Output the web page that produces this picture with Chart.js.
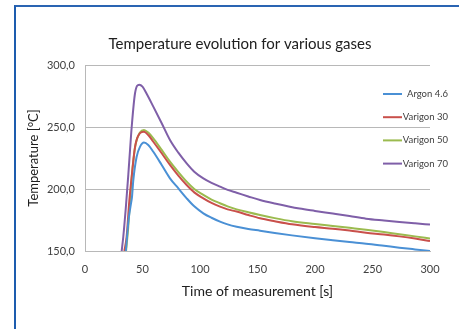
<!DOCTYPE html>
<html>
<head>
<meta charset="utf-8">
<script src="https://cdn.jsdelivr.net/npm/chart.js@4/dist/chart.umd.min.js"></script>
<style>
  html, body { margin: 0; padding: 0; background: #fff; }
  #wrap { position: relative; width: 459px; height: 329px; }
  #frame { position: absolute; left: 14px; top: 5px; right: 0; bottom: 0;
    border-left: 2px solid #1d5cae; border-top: 2px solid #2a64b2; }
  canvas { position: absolute; left: 0; top: 0; }
</style>
</head>
<body>
<div id="wrap">
  <div id="frame"></div>
  <canvas id="c" width="459" height="329"></canvas>
</div>
<script>
'use strict';

// ---------- データ ----------
const seriesNames = ['Argon 4.6', 'Varigon 30', 'Varigon 50', 'Varigon 70'];
const seriesColors = ['#4a90d5', '#c9504b', '#9bbb4f', '#7f5fa8'];

const argonT = [35.5, 38, 40.3, 40.8, 42, 44.9, 47.8, 51.3, 55, 59.4, 66.7, 73.9, 81.2, 88.4, 95, 102.9, 110, 117.4, 124, 131.9, 142, 152.2, 165, 180, 200, 215.5, 230, 244.4, 260, 273.4, 287, 300];
const argonV = [150, 176, 190, 193, 207, 226, 234, 237.4, 235.5, 230, 219.4, 208.6, 200.5, 192.5, 186, 180.4, 176.8, 173.7, 171.5, 169.6, 167.8, 166.4, 164.6, 162.6, 160.2, 158.6, 157.2, 155.9, 154.2, 152.7, 151.3, 150];

const var30T = [34.2, 36.2, 38.5, 40.6, 43.5, 47.8, 51.3, 55, 59.4, 66.7, 73.9, 81, 88.4, 95, 102.9, 110, 117.4, 124, 131.9, 142, 152.2, 165, 180, 200, 215.5, 230, 244.4, 260, 273.4, 287, 300];
const var30V = [150, 161.5, 190, 210, 234, 245, 246.2, 243.5, 238.1, 228.8, 219.4, 211, 203.2, 197.3, 192.5, 188.8, 185.8, 183.6, 181.8, 179, 176.4, 174, 171.5, 169.3, 168, 166.5, 164.8, 163.3, 161.8, 160, 158];

const var50T = [35.7, 37.5, 39.5, 41.5, 44, 47.8, 51.3, 55, 59.4, 66.7, 73.9, 81, 88.4, 95, 102.9, 110, 117.4, 124, 131.9, 142, 152.2, 165, 180, 200, 215.5, 230, 244.4, 260, 273.4, 287, 300];
const var50V = [150, 168, 195, 218, 236, 245.5, 247.6, 245.5, 240.9, 231.5, 222, 213.8, 205.9, 200, 195.2, 191.5, 188.5, 186, 183.6, 181.2, 179, 176.5, 174, 171.8, 170.2, 168.7, 167.2, 165.3, 163.5, 161.8, 160];

const var70T = [31.9, 33.3, 35.5, 37.7, 39.2, 40.6, 43.5, 47.2, 50, 53.5, 59.4, 66.7, 73.9, 81, 88.4, 95, 102.9, 110, 117.4, 124, 131.9, 142, 152.2, 165, 186.6, 200, 215.5, 230, 244.4, 260, 273.4, 287, 300];
const var70V = [150, 161.5, 185, 212, 232, 250, 277.2, 284.1, 282.5, 277, 266.4, 253, 239.5, 229.5, 220.7, 214, 208.6, 205, 201.9, 199.3, 197, 194, 191.1, 188.3, 184.2, 182.3, 180.2, 178.2, 176.1, 174.6, 173.4, 172.3, 171.3];

const seriesT = [argonT, var30T, var50T, var70T];
const seriesV = [argonV, var30V, var50V, var70V];

const xTicks = [0, 50, 100, 150, 200, 250, 300];
const yTicks = [150, 200, 250, 300];

const FONT = 'Lato, "Open Sans", sans-serif';

// ---------- 凡例(グラフ領域の右側に重ねて描く) ----------
const legendPlugin = {
  id: 'sideLegend',
  afterLayout(chart) {
    // タイトルはプロット領域の中央寄せ(元図に合わせる)
    const t = chart.titleBlock;
    if (t) { t.left = 50; t.right = 430; }
  },
  afterDatasetsDraw(chart) {
    const c = chart.ctx;
    const x0 = 383, x1 = 402, textRight = 448;
    const top = 94, step = 23.2;
    c.save();
    c.font = '9.5px ' + FONT;
    c.textAlign = 'right';
    c.textBaseline = 'middle';
    chart.data.datasets.forEach((ds, i) => {
      const y = top + i * step;
      c.strokeStyle = ds.borderColor; c.lineWidth = 2;
      c.beginPath(); c.moveTo(x0, y); c.lineTo(x1, y); c.stroke();
      c.fillStyle = '#404040';
      c.fillText(ds.label, textRight, y);
    });
    c.restore();
  }
};

const datasets = seriesNames.map((name, i) => ({
  label: name,
  data: seriesT[i].map((t, k) => ({ x: t, y: seriesV[i][k] })),
  borderColor: seriesColors[i],
  backgroundColor: seriesColors[i],
  borderWidth: 2,
  pointRadius: 0,
  cubicInterpolationMode: 'monotone'
}));

new Chart(document.getElementById('c'), {
  type: 'line',
  data: { datasets },
  options: {
    responsive: false,
    animation: false,
    layout: { padding: { left: 0, right: 29, top: 0, bottom: 18 } },
    plugins: {
      legend: { display: false },
      tooltip: { enabled: false },
      title: {
        display: true,
        text: 'Temperature evolution for various gases',
        color: '#202020',
        font: { family: FONT, size: 15, weight: 'normal' },
        padding: { top: 35, bottom: 12 }
      }
    },
    scales: {
      x: {
        type: 'linear', min: 0, max: 300,
        afterBuildTicks: (s) => { s.ticks = xTicks.map(v => ({ value: v })); },
        afterFit: (s) => { s.height = 60; },
        grid: { display: false, drawTicks: false },
        border: { display: true, color: '#b8b8b8' },
        ticks: { padding: 12, color: '#404040', font: { family: FONT, size: 11 } },
        title: { display: true, text: 'Time of measurement [s]', color: '#202020',
          font: { family: FONT, size: 14 }, padding: { top: 0, bottom: 11 } }
      },
      y: {
        min: 150, max: 300,
        afterBuildTicks: (s) => { s.ticks = yTicks.map(v => ({ value: v })); },
        afterFit: (s) => { s.width = 85; },
        grid: { color: '#b8b8b8', drawTicks: false },
        border: { display: true, color: '#b8b8b8' },
        ticks: { padding: 10, color: '#404040', font: { family: FONT, size: 11 },
          callback: (v) => v.toFixed(1).replace('.', ',') },
        title: { display: true, text: 'Temperature [°C]', color: '#202020',
          font: { family: FONT, size: 13 }, padding: { top: 26, bottom: 0 } }
      }
    }
  },
  plugins: [legendPlugin]
});
</script>
</body>
</html>
